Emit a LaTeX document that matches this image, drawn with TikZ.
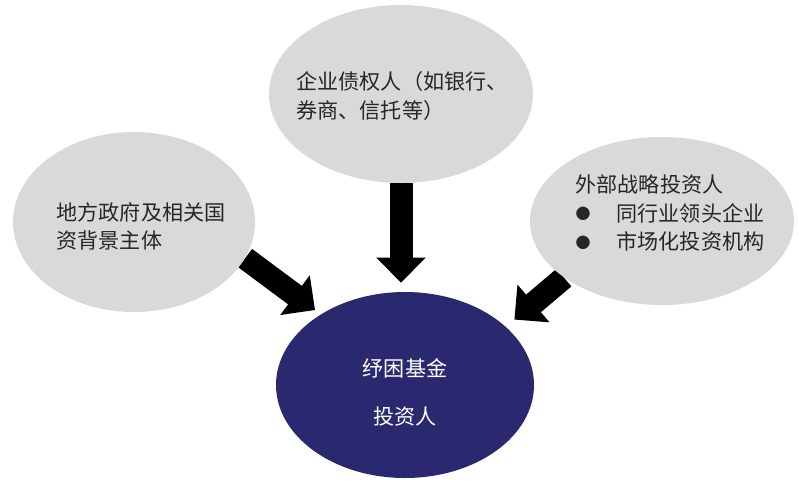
\documentclass[tikz,border=0pt]{standalone}
\usepackage{fontspec}
\usepackage{xcolor}
\usepackage{tikz}
\usetikzlibrary{shapes.geometric, arrows.meta, positioning, backgrounds}
\newfontfamily\cjk{Noto Sans CJK SC}
\definecolor{bubblegray}{RGB}{217, 217, 217}
\definecolor{fundnavy}{RGB}{42, 40, 110}
\definecolor{darktext}{RGB}{38, 38, 38}
\newcommand{\bigdot}{\makebox[8.2mm][l]{\raisebox{0.3mm}{\fontsize{8.5}{8.5}\selectfont ●}}}
\tikzset{
  bubble/.style={ellipse, fill=bubblegray, inner sep=0pt},
  bubbletext/.style={font=\cjk\fontsize{12}{16.2}\selectfont, text=darktext, align=left},
  bigarrow/.style={line width=4.6mm, -{Triangle[width=9.6mm, length=5mm]}}
}

\begin{document}
\begin{tikzpicture}[x=0.2mm, y=-0.2mm]
            \useasboundingbox (0,0) rectangle (799,481);
            % sources
            \node[bubble, minimum width=48.4mm, minimum height=36mm,
                  label={[bubbletext, xshift=1.4mm, yshift=-0.9mm]center:{地方政府及相关国\\资背景主体}}] (govt) at (134,222) {};
            \node[bubble, minimum width=52.8mm, minimum height=35.6mm,
                  label={[bubbletext, xshift=0.2mm, yshift=-0.4mm]center:{企业债权人（如银行、\\券商、信托等）}}] (creditor) at (401,94) {};
            \node[bubble, minimum width=52.8mm, minimum height=33.6mm,
                  label={[bubbletext, xshift=1.6mm, yshift=1.6mm]center:{外部战略投资人\\
                      \bigdot 同行业领头企业\\
                      \bigdot 市场化投资机构}}] (strategic) at (662,221) {};
            % target
            \node[bubble, fill=fundnavy, minimum width=51.6mm, minimum height=37.2mm,
                  label={[bubbletext, text=white, align=center, yshift=-1.4mm]center:{纾困基金\\[3.9mm]投资人}}] (fund) at (405,385) {};
            % flows
            \begin{scope}[on background layer]
                \draw[bigarrow, shorten >=1.4mm] (govt.-18) -- (fund.140);
                \draw[bigarrow, shorten >=1.8mm] (creditor.south) -- (creditor.south |- fund.north);
                \draw[bigarrow, shorten >=2.2mm] (strategic.210) -- (fund.30);
            \end{scope}
        \end{tikzpicture}
\end{document}
